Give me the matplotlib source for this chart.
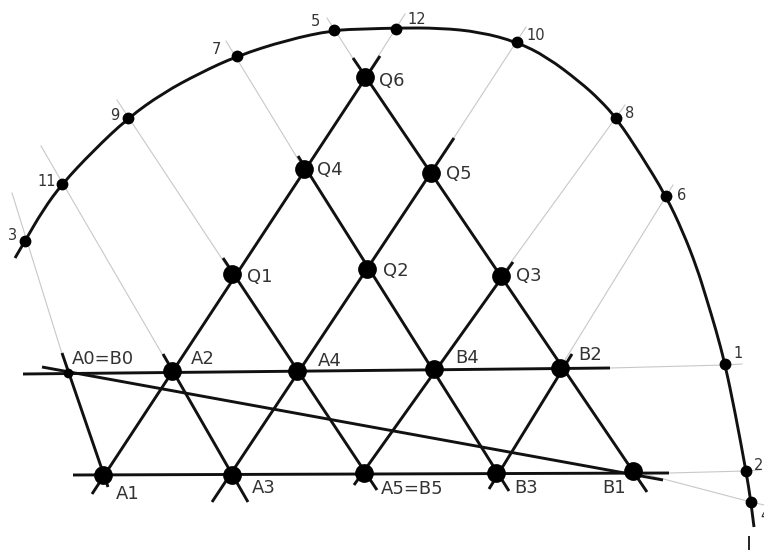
import matplotlib
matplotlib.use("Agg")
import matplotlib.pyplot as plt
from matplotlib.patches import PathPatch
from matplotlib.path import Path

# everything in pixel coordinates

# the big outer curve
curve_x = [15, 25, 43, 62, 93, 128, 163, 200, 237, 287, 334, 365, 396, 440, 480, 517, 547, 580, 600, 617, 641, 666, 683, 697, 706, 716, 725, 735, 746, 751, 754]
curve_y = [258, 241, 210, 184, 151, 118, 93, 73, 56, 40, 30, 29, 28, 28, 32, 42, 57, 82, 100, 119, 155, 196, 232, 268, 297, 330, 364, 412, 471, 502, 527]

# points on the curve
curve_labels = ["3", "11", "9", "7", "5", "12", "10", "8", "6", "1", "2", "4"]
curve_pts_x = [25, 62, 128, 237, 334, 396, 517, 616, 666, 725, 746, 751]
curve_pts_y = [241, 184, 118, 56, 30, 29, 42, 118, 196, 364, 471, 502]
curve_text_x = [8, 37, 110, 212, 311, 407, 526, 625, 677, 733, 754, 760]
curve_text_y = [235, 182, 115, 50, 22, 20, 35, 114, 195, 354, 466, 516]

# grid points
node_labels = ["A2", "A4", "B4", "B2", "A1", "A3", "A5=B5", "B3", "B1", "Q1", "Q2", "Q3", "Q4", "Q5", "Q6"]
node_x = [172, 297, 434, 560, 103, 232, 364, 496, 633, 232, 367, 501, 304, 431, 365]
node_y = [371, 371, 369, 368, 475, 475, 473, 473, 471, 274, 269, 276, 169, 173, 77]
node_text_x = [191, 318, 455, 578, 116, 252, 381, 514, 602, 247, 383, 516, 317, 446, 379]
node_text_y = [359, 361, 358, 355, 494, 488, 489, 488, 488, 277, 271, 276, 170, 174, 81]

# A0=B0 is drawn smaller than the others
a0_x = 68
a0_y = 373

# thick straight lines: x0, x1 and y0, y1
thick_x = [(23, 610), (73, 669), (42, 663), (62, 108), (92, 380), (212, 454), (354, 513), (489, 572),
           (353, 647), (298, 509), (223, 377), (163, 248)]
thick_y = [(374, 368), (475, 473), (367, 480), (353, 487), (494, 56), (502, 138), (485, 262), (489, 354),
           (58, 492), (156, 491), (258, 490), (354, 502)]

# thin grey construction lines
grey_x = [(12, 68), (41, 172), (117, 232), (226, 304), (327, 365), (405, 365), (526, 431), (625, 501),
          (673, 560), (610, 725), (725, 742), (669, 746), (746, 760), (633, 751), (751, 764)]
grey_y = [(193, 373), (146, 371), (100, 274), (41, 169), (18, 77), (14, 77), (27, 173), (105, 276),
          (185, 368), (368, 365), (365, 364), (473, 471), (471, 470), (471, 502), (502, 505)]

# little stray tick at the bottom right
tick_x = (749, 749)
tick_y = (537, 550)

fig = plt.figure(figsize=(7.64, 5.5), dpi=100)
ax = fig.add_axes([0, 0, 1, 1])
ax.set_xlim(0, 764)
ax.set_ylim(550, 0)
ax.axis("off")

for xs, ys in zip(grey_x, grey_y):
    ax.plot(xs, ys, color="#c8c8c8", lw=0.8, zorder=1)

for xs, ys in zip(thick_x, thick_y):
    ax.plot(xs, ys, color="#111111", lw=2.1, solid_capstyle="butt", zorder=2)

ax.plot(tick_x, tick_y, color="#222222", lw=1.4, zorder=2)

# smooth the curve with quadratic pieces, read points are the control points
verts = [(curve_x[0], curve_y[0])]
codes = [Path.MOVETO]
for i in range(1, len(curve_x) - 1):
    verts.append((curve_x[i], curve_y[i]))
    if i < len(curve_x) - 2:
        verts.append(((curve_x[i] + curve_x[i + 1]) / 2, (curve_y[i] + curve_y[i + 1]) / 2))
    else:
        verts.append((curve_x[-1], curve_y[-1]))
    codes += [Path.CURVE3, Path.CURVE3]
ax.add_patch(PathPatch(Path(verts, codes), fill=False, edgecolor="#111111", lw=2.1, zorder=2))

ax.plot(node_x, node_y, "o", color="black", ms=13.5, mew=0, zorder=3)
ax.plot(curve_pts_x, curve_pts_y, "o", color="black", ms=8.5, mew=0, zorder=3)
ax.plot([a0_x], [a0_y], "o", color="black", ms=7, mew=0, zorder=3)

for i in range(len(node_labels)):
    ax.text(node_text_x[i], node_text_y[i], node_labels[i], fontsize=13, color="#333333", ha="left", va="center")
ax.text(72, 359, "A0=B0", fontsize=13, color="#333333", ha="left", va="center")

for i in range(len(curve_labels)):
    ax.text(curve_text_x[i], curve_text_y[i], curve_labels[i], fontsize=10.5, color="#333333", ha="left", va="center", clip_on=True)

fig.savefig("out.png", dpi=100)
